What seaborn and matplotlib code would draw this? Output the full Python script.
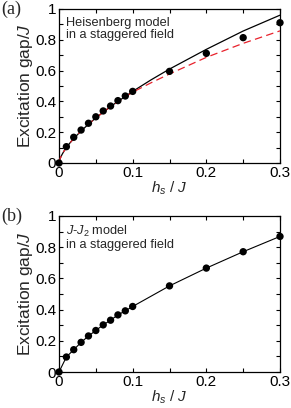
import numpy as np
import pandas as pd
import matplotlib
matplotlib.use("Agg")
import matplotlib.pyplot as plt
from matplotlib.ticker import MultipleLocator, FuncFormatter
import seaborn as sns

sns.set_style("ticks")
plt.rcParams['font.family'] = ['Liberation Sans', 'DejaVu Sans']
plt.rcParams['mathtext.fontset'] = 'custom'
plt.rcParams['mathtext.rm'] = 'Liberation Sans'
plt.rcParams['mathtext.it'] = 'Liberation Sans:italic'

## data
hs = [0, 0.01, 0.02, 0.03, 0.04, 0.05, 0.06, 0.07, 0.08, 0.09, 0.1, 0.15, 0.2, 0.25, 0.3]
gap_heis = [0, 0.106, 0.167, 0.214, 0.258, 0.300, 0.338, 0.370, 0.405, 0.435, 0.465, 0.595, 0.712, 0.814, 0.911]
gap_j1j2 = [0, 0.096, 0.143, 0.190, 0.231, 0.266, 0.302, 0.332, 0.366, 0.392, 0.420, 0.552, 0.666, 0.771, 0.869]

# fit curves (panel a), sampled by eye
fit_h = [0, 0.0005, 0.001, 0.002, 0.004, 0.007, 0.01, 0.015, 0.02, 0.03, 0.04, 0.05, 0.07, 0.1, 0.125, 0.15, 0.2, 0.25, 0.3]
fit_black = [0, 0.014, 0.022, 0.034, 0.054, 0.079, 0.100, 0.131, 0.159, 0.208, 0.252, 0.293, 0.367, 0.465, 0.540, 0.610, 0.738, 0.857, 0.960]
fit_red = [0, 0.014, 0.022, 0.034, 0.054, 0.079, 0.100, 0.131, 0.159, 0.208, 0.252, 0.293, 0.366, 0.460, 0.521, 0.578, 0.686, 0.777, 0.858]

df_a = pd.DataFrame({'hs': hs, 'gap': gap_heis})
df_b = pd.DataFrame({'hs': hs, 'gap': gap_j1j2})
df_fit = pd.DataFrame({'hs': fit_h, 'black': fit_black, 'red': fit_red})

fig = plt.figure(figsize=(2.91, 4.08), dpi=100)
ax1 = fig.add_axes([59/291, 1-163/408, 221/291, 154/408])
ax2 = fig.add_axes([59/291, 1-372/408, 221/291, 156/408])

sns.lineplot(data=df_fit, x='hs', y='black', ax=ax1, color='black', lw=0.9, zorder=2)
sns.lineplot(data=df_fit, x='hs', y='red', ax=ax1, color='#e8212b', lw=0.9, dashes=(6, 3.5), zorder=3)
sns.scatterplot(data=df_a, x='hs', y='gap', ax=ax1, color='black', s=28, edgecolor='none', zorder=4, clip_on=False)

sns.lineplot(data=df_b, x='hs', y='gap', ax=ax2, color='black', lw=0.8, zorder=2)
sns.scatterplot(data=df_b, x='hs', y='gap', ax=ax2, color='black', s=28, edgecolor='none', zorder=4, clip_on=False)

fmt = FuncFormatter(lambda v, p: '%g' % round(v, 3))
for ax in (ax1, ax2):
    ax.set_xlim(0, 0.3)
    ax.set_ylim(0, 1)
    ax.xaxis.set_major_locator(MultipleLocator(0.1))
    ax.xaxis.set_minor_locator(MultipleLocator(0.05))
    ax.yaxis.set_major_locator(MultipleLocator(0.2))
    ax.yaxis.set_minor_locator(MultipleLocator(0.1))
    ax.xaxis.set_major_formatter(fmt)
    ax.yaxis.set_major_formatter(fmt)
    ax.tick_params(which='both', direction='in', top=True, right=True, length=3, width=0.8,
                   labelsize=11, pad=2, colors='black')
    for sp in ax.spines.values():
        sp.set_linewidth(0.9)
        sp.set_color('black')
    ax.set_xlabel(r'$h_s$ / $J$', fontsize=11, labelpad=0)
    ax.set_ylabel(r'Excitation gap/$J$', fontsize=12.5, labelpad=0)

ax1.text(0.03, 0.95, 'Heisenberg model\nin a staggered field', transform=ax1.transAxes,
         ha='left', va='top', fontsize=9.2, linespacing=1.0)
ax2.text(0.03, 0.95, r'$J$-$J_2$ model' + '\nin a staggered field', transform=ax2.transAxes,
         ha='left', va='top', fontsize=9.2, linespacing=1.0)

fig.text(1/291, 1-1/408, '(a)', family='Liberation Serif', fontsize=13, ha='left', va='top')
fig.text(1/291, 1-208/408, '(b)', family='Liberation Serif', fontsize=13, ha='left', va='top')

fig.savefig('out.png', dpi=100)
